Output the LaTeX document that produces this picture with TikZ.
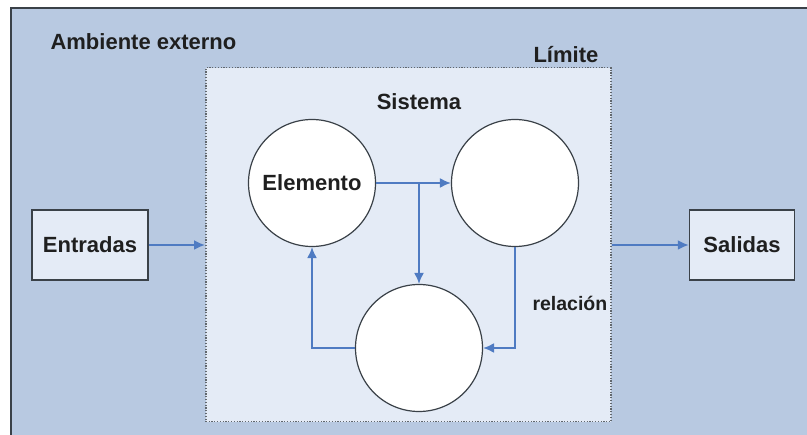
\documentclass[tikz,border=0pt]{standalone}
\usepackage{fontspec}
\setmainfont{Liberation Sans}
\usetikzlibrary{arrows.meta}
\definecolor{ambiente}{HTML}{B8C9E1}
\definecolor{sistema}{HTML}{E4EBF6}
\definecolor{flecha}{HTML}{4F7BC2}
\definecolor{borde}{HTML}{3A4148}
\tikzset{
  texto/.style={font=\bfseries\fontsize{22}{26}\selectfont, text=black!88},
  caja/.style={draw=borde, line width=1.5pt, fill=sistema, minimum width=116pt, minimum height=70pt, texto},
  elemento/.style={circle, draw=borde, line width=1.2pt, fill=white, minimum size=127pt, inner sep=0pt, texto},
  rel/.style={draw=flecha, line width=1.8pt, -{Latex[length=11pt,width=10pt]}}
}
\begin{document}
\begin{tikzpicture}[x=1pt, y=-1pt]
  \useasboundingbox (0,0) rectangle (807,435);

  %% ambiente externo
  \draw [draw=borde, line width=1.6pt, fill=ambiente] (11,8) rectangle (830,460);
  \node [texto, anchor=base west] (amb) at (47,50) {Ambiente externo};

  %% limite del sistema
  \node [draw=borde!80, line width=1.5pt, dash pattern=on 1.2pt off 1.6pt, fill=sistema,
         minimum width=405pt, minimum height=354pt, anchor=north west] (lim) at (205,67) {};
  \node [texto, anchor=base west] (limtxt) at (530,63) {Límite};
  \node [texto, anchor=base] (sis) at (419,110) {Sistema};

  %% elementos
  \node [elemento] (elem) at (312,183) {Elemento};
  \node [elemento] (der) at (515,183) {};
  \node [elemento] (abajo) at (419,348) {};
  \node [texto, font=\bfseries\fontsize{19.5}{23}\selectfont, anchor=base west] (reltxt) at (529,311) {relación};

  %% entradas y salidas
  \node [caja] (ent) at (90,245) {Entradas};
  \node [caja, minimum width=105pt] (sal) at (742,245) {Salidas};

  %% relaciones
  \draw [rel] (elem.east) -- (der.west);
  \draw [rel] (elem.east -| abajo.north) -- (abajo.north);
  \draw [rel] (der.south) |- (abajo.east);
  \draw [rel] (abajo.west) -| (elem.south);
  \draw [rel] (ent.east) -- (ent.east -| lim.west);
  \draw [rel] (lim.east |- sal.west) -- (sal.west);

\end{tikzpicture}
\end{document}
